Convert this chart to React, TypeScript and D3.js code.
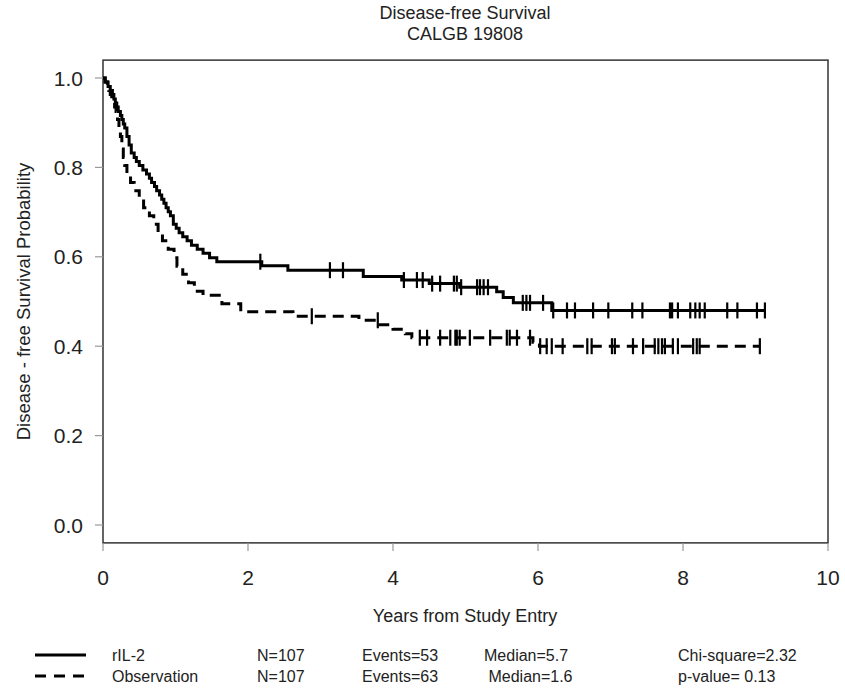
import React from "react";
import * as d3 from "d3";

// ---- data ----
const xTicks = [0, 2, 4, 6, 8, 10];
const yTicks = [0, 0.2, 0.4, 0.6, 0.8, 1.0];

// rIL-2 (solid) Kaplan-Meier steps: time of event, survival after it
const rilStepTimes = [0.03, 0.07, 0.10, 0.13, 0.15, 0.17, 0.19, 0.21, 0.24, 0.26, 0.28, 0.30, 0.33, 0.36, 0.39, 0.43, 0.46, 0.50, 0.55, 0.60, 0.64, 0.67, 0.71, 0.74, 0.78, 0.81, 0.84, 0.87, 0.90, 0.93, 0.97, 1.01, 1.05, 1.10, 1.16, 1.22, 1.30, 1.38, 1.47, 1.57, 2.19, 2.55, 3.59, 4.12, 4.50, 4.92, 5.43, 5.52, 5.66, 6.19];
const rilStepSurv = [0.991, 0.981, 0.972, 0.963, 0.953, 0.944, 0.935, 0.925, 0.916, 0.907, 0.897, 0.888, 0.869, 0.850, 0.832, 0.822, 0.813, 0.804, 0.794, 0.785, 0.776, 0.766, 0.757, 0.748, 0.738, 0.729, 0.720, 0.710, 0.701, 0.692, 0.673, 0.664, 0.654, 0.645, 0.636, 0.626, 0.617, 0.608, 0.598, 0.589, 0.580, 0.570, 0.556, 0.548, 0.540, 0.532, 0.522, 0.509, 0.497, 0.480];
const rilCensor = [2.17, 3.13, 3.31, 4.15, 4.33, 4.41, 4.54, 4.65, 4.84, 4.88, 4.94, 5.16, 5.20, 5.25, 5.31, 5.79, 5.84, 5.89, 6.07, 6.21, 6.40, 6.51, 6.76, 6.97, 7.30, 7.44, 7.82, 7.85, 7.93, 8.10, 8.17, 8.23, 8.30, 8.61, 8.75, 9.02, 9.13];

// Observation (dashed)
const obsStepTimes = [0.03, 0.06, 0.08, 0.10, 0.12, 0.14, 0.16, 0.18, 0.20, 0.22, 0.24, 0.26, 0.28, 0.30, 0.33, 0.38, 0.43, 0.50, 0.56, 0.64, 0.70, 0.76, 0.82, 0.90, 0.98, 1.02, 1.10, 1.18, 1.26, 1.38, 1.64, 1.90, 2.62, 3.53, 3.80, 4.00, 4.17, 4.26, 5.93, 6.02];
const obsStepSurv = [0.991, 0.981, 0.972, 0.963, 0.953, 0.944, 0.935, 0.925, 0.907, 0.888, 0.869, 0.841, 0.822, 0.804, 0.785, 0.766, 0.748, 0.729, 0.710, 0.692, 0.673, 0.654, 0.636, 0.617, 0.598, 0.579, 0.561, 0.542, 0.523, 0.514, 0.495, 0.477, 0.467, 0.458, 0.448, 0.438, 0.428, 0.419, 0.409, 0.400];
const obsCensor = [2.88, 3.79, 4.37, 4.47, 4.65, 4.79, 4.86, 4.88, 4.92, 5.06, 5.34, 5.57, 5.61, 5.71, 5.89, 6.03, 6.12, 6.19, 6.34, 6.68, 6.74, 7.02, 7.06, 7.31, 7.45, 7.61, 7.66, 7.71, 7.75, 7.86, 7.93, 8.14, 8.19, 8.23, 9.06];

const legendNames = ["rIL-2", "Observation"];
const legendN = ["N=107", "N=107"];
const legendEvents = ["Events=53", "Events=63"];
const legendMedian = ["Median=5.7", " Median=1.6"];
const legendStats = ["Chi-square=2.32", "p-value= 0.13"];

const FONT = "'Liberation Sans', Arial, Helvetica, sans-serif";
const TXT = "#222";

function buildCurve(times: number[], surv: number[], censor: number[]) {
  const end = Math.max(times[times.length - 1], censor[censor.length - 1]);
  const pts: [number, number][] = [[0, 1]];
  times.forEach((t, i) => pts.push([t, surv[i]]));
  pts.push([end, surv[surv.length - 1]]);
  const survAt = (t: number) => {
    const i = d3.bisectRight(times, t);
    return i === 0 ? 1 : surv[i - 1];
  };
  const marks = censor.map((t) => [t, survAt(t)] as [number, number]);
  return { pts, marks };
}

export default function App() {
  const W = 845, H = 691;
  const x = d3.scaleLinear().domain([0, 10]).range([103, 828]);
  const y = d3.scaleLinear().domain([0, 1]).range([525, 78]);
  const boxTop = y(1.04), boxBot = y(-0.04);

  const line = d3.line<[number, number]>()
    .x((d) => x(d[0]))
    .y((d) => y(d[1]))
    .curve(d3.curveStepAfter);

  const ril = buildCurve(rilStepTimes, rilStepSurv, rilCensor);
  const obs = buildCurve(obsStepTimes, obsStepSurv, obsCensor);
  const series = [
    { c: ril, dash: undefined as string | undefined },
    { c: obs, dash: "11,7" },
  ];

  const legendY = [655, 676];

  return (
    <svg width={W} height={H} style={{ position: "absolute", left: 0, top: 0, background: "#fff" }} fontFamily={FONT}>
      <rect x={0} y={0} width={W} height={H} fill="#fff" />
      {/* title */}
      <text x={465} y={19} textAnchor="middle" fontSize={18} fill={TXT}>Disease-free Survival</text>
      <text x={465} y={40} textAnchor="middle" fontSize={18} fill={TXT}>CALGB 19808</text>

      {/* box */}
      <rect x={x(0)} y={boxTop} width={x(10) - x(0)} height={boxBot - boxTop} fill="none" stroke="#333" strokeWidth={1.5} />

      {/* y axis */}
      {yTicks.map((t) => (
        <g key={"y" + t}>
          <line x1={x(0) - 8} x2={x(0)} y1={y(t)} y2={y(t)} stroke="#999" strokeWidth={1.2} />
          <text x={x(0) - 20} y={y(t)} dy="0.36em" textAnchor="end" fontSize={21} fill={TXT}>{t.toFixed(1)}</text>
        </g>
      ))}
      {/* x axis */}
      {xTicks.map((t) => (
        <g key={"x" + t}>
          <line x1={x(t)} x2={x(t)} y1={boxBot} y2={boxBot + 8} stroke="#999" strokeWidth={1.2} />
          <text x={x(t)} y={boxBot + 42} textAnchor="middle" fontSize={21} fill={TXT}>{t}</text>
        </g>
      ))}
      <text x={465} y={622} textAnchor="middle" fontSize={18} fill={TXT}>Years from Study Entry</text>
      <text transform={`translate(30,${(y(0) + y(1)) / 2}) rotate(-90)`} textAnchor="middle" fontSize={18.5} fill={TXT}>Disease - free Survival Probability</text>

      {/* curves */}
      {series.map((s, i) => (
        <g key={"s" + i}>
          <path d={line(s.c.pts) || ""} fill="none" stroke="#000" strokeWidth={3} strokeDasharray={s.dash} />
          {s.c.marks.map((m, j) => (
            <line key={j} x1={x(m[0])} x2={x(m[0])} y1={y(m[1]) - 8} y2={y(m[1]) + 8} stroke="#000" strokeWidth={2.2} />
          ))}
        </g>
      ))}

      {/* legend */}
      {legendY.map((ly, i) => (
        <g key={"l" + i} fontSize={16} fill={TXT}>
          <line x1={35} x2={86} y1={ly} y2={ly} stroke="#000" strokeWidth={3} strokeDasharray={i === 1 ? "11,8" : undefined} />
          <text x={112} y={ly} dy="0.36em">{legendNames[i]}</text>
          <text x={257} y={ly} dy="0.36em">{legendN[i]}</text>
          <text x={362} y={ly} dy="0.36em">{legendEvents[i]}</text>
          <text x={484} y={ly} dy="0.36em" style={{ whiteSpace: "pre" }}>{legendMedian[i]}</text>
          <text x={678} y={ly} dy="0.36em">{legendStats[i]}</text>
        </g>
      ))}
    </svg>
  );
}
